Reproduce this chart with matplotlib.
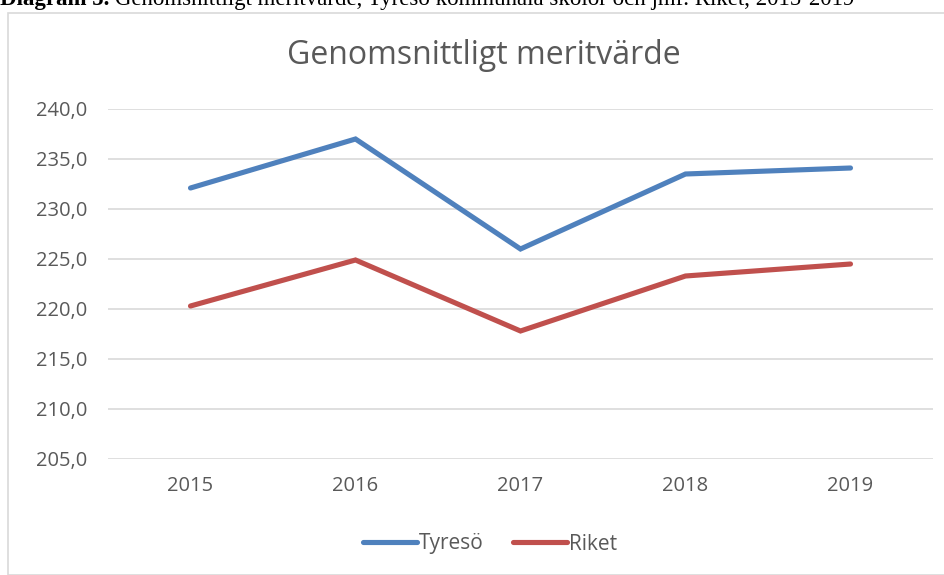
import matplotlib.pyplot as plt
from matplotlib.patches import Rectangle

years = ['2015', '2016', '2017', '2018', '2019']
tyreso = [232.1, 237.0, 226.0, 233.5, 234.1]
riket = [220.3, 224.9, 217.8, 223.3, 224.5]
yticks = [205, 210, 215, 220, 225, 230, 235, 240]

W, H = 945, 575
fig = plt.figure(figsize=(W / 100, H / 100), dpi=100)
fig.patch.set_facecolor('white')

# chart frame (partly cut by the image edge)
fig.patches.append(Rectangle((8 / W, 0), 1.2, 1 - 13 / H, transform=fig.transFigure,
                             fill=False, edgecolor='#d9d9d9', linewidth=1.2))

# caption, cut off at the top like in the source
cap_y = 1 + 1 / H
t1 = fig.text(0, cap_y, 'Diagram 5. ', fontsize=16.5, fontweight='bold',
              family='Liberation Serif', va='center', ha='left')
fig.canvas.draw()
bb = t1.get_window_extent()
fig.text(bb.x1 / W, cap_y,
         'Genomsnittligt meritvärde, Tyresö kommunala skolor och jmf. Riket, 2015-2019',
         fontsize=16.5, family='Liberation Serif', va='center', ha='left')

ax = fig.add_axes([108 / W, 1 - 459 / H, 825 / W, 350 / H])
x = range(len(years))
ax.plot(x, tyreso, color='#4f81bd', lw=3.7, solid_capstyle='round', solid_joinstyle='miter', label='Tyresö')
ax.plot(x, riket, color='#c0504d', lw=3.7, solid_capstyle='round', solid_joinstyle='miter', label='Riket')

ax.set_xlim(-0.5, len(years) - 0.5)
ax.set_ylim(205, 240)
ax.set_yticks(yticks)
ax.set_yticklabels([f'{v:.1f}'.replace('.', ',') for v in yticks])
ax.set_xticks(list(x))
ax.set_xticklabels(years)
ax.grid(axis='y', color='#d9d9d9', lw=1.2)
ax.set_axisbelow(True)
for s in ax.spines.values():
    s.set_visible(False)
ax.tick_params(length=0, labelsize=14.5, labelcolor='#595959')
ax.tick_params(axis='y', pad=15)
ax.tick_params(axis='x', pad=12)
for t in ax.get_xticklabels() + ax.get_yticklabels():
    t.set_family('Open Sans')

fig.text(484 / W, 1 - 56 / H, 'Genomsnittligt meritvärde', fontsize=23,
         family='Open Sans', color='#595959', ha='center', va='center')

leg = fig.legend(loc='center', bbox_to_anchor=(490 / W, 1 - 544 / H), ncol=2, frameon=False,
                 prop={'family': 'Open Sans', 'size': 15}, handlelength=2.6,
                 handletextpad=0.1, columnspacing=1.4)
for t in leg.get_texts():
    t.set_color('#595959')

fig.savefig('out.png', dpi=100)
